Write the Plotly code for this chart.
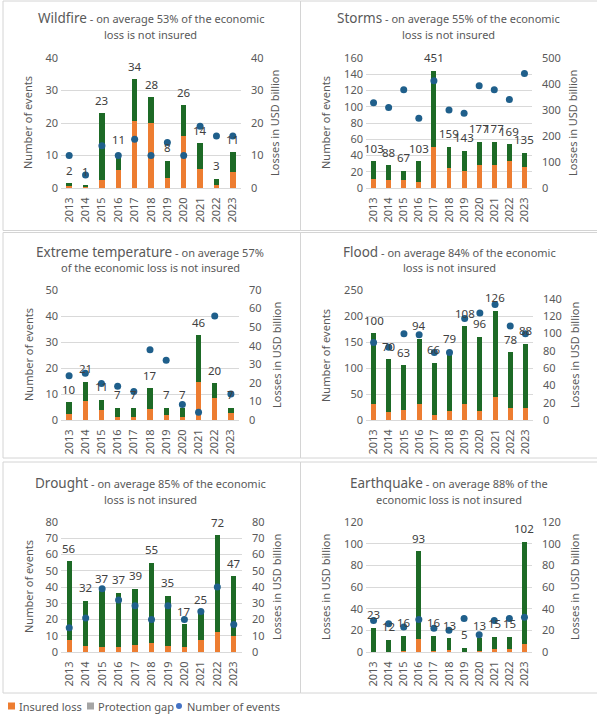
import plotly.graph_objects as go

W, H = 597, 717

years = ["2013", "2014", "2015", "2016", "2017", "2018", "2019", "2020", "2021", "2022", "2023"]

# losses in USD billion (insured part + protection gap), label = total shown above bar
wildfire_insured = [0.7, 0.4, 2.6, 5.4, 20.7, 19.9, 3.2, 16.1, 6.0, 0.8, 4.8]
wildfire_gap = [0.8, 0.6, 20.4, 5.4, 12.8, 8.1, 5.2, 9.4, 7.7, 2.1, 6.2]
wildfire_labels = [2, 1, 23, 11, 34, 28, 8, 26, 14, 3, 11]
wildfire_events = [10, 4, 13, 10, 15, 10, 14, 10, 19, 16, 16]

storms_insured = [35, 32, 29, 25, 156, 76, 64, 88, 88, 103, 80]
storms_gap = [68, 56, 38, 78, 295, 83, 79, 89, 89, 66, 55]
storms_labels = [103, 88, 67, 103, 451, 159, 143, 177, 177, 169, 135]
storms_events = [105, 99, 121, 86, 132, 96, 92, 126, 121, 109, 141]

temp_insured = [3.4, 10.5, 5.6, 1.7, 1.7, 6.1, 2.8, 1.7, 20.7, 12.0, 3.9]
temp_gap = [6.2, 10.2, 5.4, 5.0, 5.0, 11.0, 3.8, 5.0, 24.9, 7.8, 2.8]
temp_labels = [10, 21, 11, 7, 7, 17, 7, 7, 46, 20, 7]
temp_events = [17, 18, 14, 13, 11, 27, 23, 6, 3, 40, 10]

flood_insured = [18, 9.6, 12, 18, 6, 10.8, 18, 10.8, 27, 14.4, 14.4]
flood_gap = [82, 60.4, 51, 76, 60, 68.2, 90, 85.2, 99, 63.6, 73.6]
flood_labels = [100, 70, 63, 94, 66, 79, 108, 96, 126, 78, 88]
flood_events = [149, 140, 166, 164, 130, 130, 195, 206, 222, 181, 166]

drought_insured = [7.5, 4.0, 3.3, 2.8, 4.5, 5.8, 4.0, 3.3, 7.5, 12.5, 10.0]
drought_gap = [48.5, 27.5, 34.0, 33.7, 34.5, 49.2, 30.5, 13.7, 17.0, 59.5, 36.5]
drought_labels = [56, 32, 37, 37, 39, 55, 35, 17, 25, 72, 47]
drought_events = [15, 21, 39, 32, 28.5, 20, 28.5, 20, 25, 40, 17]

quake_insured = [0.3, 0.2, 1.0, 12.0, 1.0, 2.0, 0.3, 1.0, 3.0, 3.0, 7.0]
quake_gap = [22.2, 11.3, 14.0, 81.0, 14.0, 10.5, 3.7, 11.5, 11.0, 11.0, 95.0]
quake_labels = [23, 12, 16, 93, 16, 13, 5, 13, 15, 15, 102]
quake_events = [29, 26, 23, 30, 22, 20, 31, 16, 29, 31, 32]

ORANGE = "#ED7D31"
GREEN = "#1D6A26"
BLUE = "#1F5F8B"
GRID = "#D9D9D9"
TXT = "#595959"
FONT = "Noto Sans"

panels = [
    dict(head="Wildfire", rest=" - on average 53% of the economic", line2="loss is not insured",
         insured=wildfire_insured, gap=wildfire_gap, labels=wildfire_labels, events=wildfire_events,
         ev=(40, 10), loss=(40, 10), left_title="Number of events",
         box=(3, 1, 300.5, 230.5), plot=(61, 58, 241, 188), tcx=150.5, ty=18.5, ltx=28, rtx=275),
    dict(head="Storms", rest=" - on average 55% of the economic", line2="loss is not insured",
         insured=storms_insured, gap=storms_gap, labels=storms_labels, events=storms_events,
         ev=(160, 20), loss=(500, 100), left_title="Number of events",
         box=(300.5, 1, 600, 230.5), plot=(366, 58, 532, 188), tcx=448.5, ty=18.5, ltx=326, rtx=573),
    dict(head="Extreme temperature", rest=" - on average 57%", line2="of the economic loss is not insured",
         insured=temp_insured, gap=temp_gap, labels=temp_labels, events=temp_events,
         ev=(50, 10), loss=(70, 10), left_title="Number of events",
         box=(3, 232.5, 300.5, 458), plot=(61, 290, 239, 420), tcx=150, ty=251.5, ltx=28, rtx=276),
    dict(head="Flood", rest=" - on average 84% of the economic", line2="loss is not insured",
         insured=flood_insured, gap=flood_gap, labels=flood_labels, events=flood_events,
         ev=(250, 50), loss=(150, 20), left_title="Number of events",
         box=(300.5, 232.5, 600, 458), plot=(366, 290, 533, 420), tcx=449, ty=251.5, ltx=325, rtx=574),
    dict(head="Drought", rest=" - on average 85% of the economic", line2="loss is not insured",
         insured=drought_insured, gap=drought_gap, labels=drought_labels, events=drought_events,
         ev=(80, 10), loss=(80, 10), left_title="Number of events",
         box=(3, 462, 300.5, 693), plot=(61, 522, 242, 652), tcx=150.5, ty=483.5, ltx=28, rtx=276),
    dict(head="Earthquake", rest=" - on average 88% of the", line2="economic loss is not insured",
         insured=quake_insured, gap=quake_gap, labels=quake_labels, events=quake_events,
         ev=(120, 20), loss=(120, 20), left_title="Losses in USD billion",
         box=(300.5, 462, 600, 693), plot=(366, 522, 532, 652), tcx=449, ty=483.5, ltx=325, rtx=574),
]


def px(x):
    return x / W


def py(y):
    return 1 - y / H


fig = go.Figure()
layout = {}
shapes = []
annotations = []
tick_font = dict(family=FONT, size=11, color=TXT)

for i, p in enumerate(panels):
    k = i + 1
    xa = "x" if k == 1 else f"x{k}"
    ly = "y" if i == 0 else f"y{2 * i + 1}"
    ey = f"y{2 * i + 2}"

    fig.add_trace(go.Bar(x=years, y=p["insured"], xaxis=xa, yaxis=ly, width=0.33,
                         marker=dict(color=ORANGE, line_width=0), showlegend=False,
                         name="Insured loss"))
    fig.add_trace(go.Bar(x=years, y=p["gap"], xaxis=xa, yaxis=ly, width=0.33,
                         marker=dict(color=GREEN, line_width=0), showlegend=False,
                         name="Protection gap"))
    fig.add_trace(go.Scatter(x=years, y=p["events"], xaxis=xa, yaxis=ey, mode="markers",
                             marker=dict(color=BLUE, size=7), showlegend=False,
                             name="Number of events", cliponaxis=False))

    # total label above each stacked bar (x given as category index)
    for j, (a, b, lab) in enumerate(zip(p["insured"], p["gap"], p["labels"])):
        annotations.append(dict(x=j, y=a + b, xref=xa, yref=ly, text=str(lab), showarrow=False,
                                yshift=13, yanchor="middle",
                                font=dict(family=FONT, size=11.5, color="#404040")))

    x0, y0, x1, y1 = p["plot"]
    layout["xaxis" if k == 1 else f"xaxis{k}"] = dict(
        domain=[px(x0), px(x1)], anchor=ly, type="category", range=[-0.5, 10.5],
        tickangle=-90, showgrid=False, showline=True, linecolor=GRID, linewidth=1,
        ticks="", tickfont=tick_font, ticklabelstandoff=4, fixedrange=True, automargin=False)
    layout["yaxis" if i == 0 else f"yaxis{2 * i + 1}"] = dict(
        domain=[py(y1), py(y0)], anchor=xa, side="right", range=[0, p["loss"][0]],
        dtick=p["loss"][1], showgrid=False, zeroline=False, ticks="",
        tickfont=tick_font, ticklabelstandoff=9, fixedrange=True, automargin=False)
    layout[f"yaxis{2 * i + 2}"] = dict(
        overlaying=ly, anchor=xa, side="left", range=[0, p["ev"][0]], dtick=p["ev"][1],
        showgrid=True, gridcolor=GRID, gridwidth=1, zeroline=False, ticks="",
        tickfont=tick_font, ticklabelstandoff=2, fixedrange=True, automargin=False)

    bx0, by0, bx1, by1 = p["box"]
    shapes.append(dict(type="rect", xref="paper", yref="paper", x0=px(bx0), x1=px(bx1),
                       y0=py(by1), y1=py(by0), line=dict(color="#D4D4D4", width=1),
                       fillcolor="rgba(0,0,0,0)", layer="below"))

    annotations.append(dict(
        x=px(p["tcx"]), y=py(p["ty"]), xref="paper", yref="paper", showarrow=False,
        xanchor="center", yanchor="middle",
        text=f"<span style='font-size:13.5px'>{p['head']}</span>{p['rest']}",
        font=dict(family=FONT, size=11, color=TXT)))
    annotations.append(dict(
        x=px(p["tcx"]), y=py(p["ty"] + 16), xref="paper", yref="paper", showarrow=False,
        xanchor="center", yanchor="middle", text=p["line2"],
        font=dict(family=FONT, size=11, color=TXT)))

    cy = (y0 + y1) / 2
    annotations.append(dict(x=px(p["ltx"]), y=py(cy), xref="paper", yref="paper",
                            showarrow=False, textangle=-90, text=p["left_title"],
                            xanchor="center", yanchor="middle",
                            font=dict(family=FONT, size=11, color=TXT)))
    annotations.append(dict(x=px(p["rtx"]), y=py(cy), xref="paper", yref="paper",
                            showarrow=False, textangle=-90, text="Losses in USD billion",
                            xanchor="center", yanchor="middle",
                            font=dict(family=FONT, size=11, color=TXT)))

# legend under the grid
legend_items = [("Insured loss", ORANGE, "rect", 8), ("Protection gap", "#A5A5A5", "rect", 87),
                ("Number of events", "#4472C4", "circle", 176)]
for name, col, kind, lx in legend_items:
    shapes.append(dict(type=kind, xref="paper", yref="paper", x0=px(lx), x1=px(lx + 7 if kind == "rect" else lx + 6),
                       y0=py(709.5 if kind == "rect" else 709), y1=py(702.5 if kind == "rect" else 703),
                       fillcolor=col, line_width=0))
    annotations.append(dict(x=px(lx + 9), y=py(706), xref="paper", yref="paper", showarrow=False,
                            xanchor="left", yanchor="middle", text=name,
                            font=dict(family=FONT, size=11, color=TXT)))

fig.update_layout(
    width=W, height=H,
    margin=dict(l=0, r=0, t=0, b=0, pad=0, autoexpand=False),
    paper_bgcolor="white", plot_bgcolor="white",
    barmode="stack",
    showlegend=False,
    font=dict(family=FONT, color=TXT),
    shapes=shapes,
    annotations=annotations,
    **layout,
)

fig.write_html("out.html", config={"displayModeBar": False},
               post_script="document.body.style.margin='0';")
